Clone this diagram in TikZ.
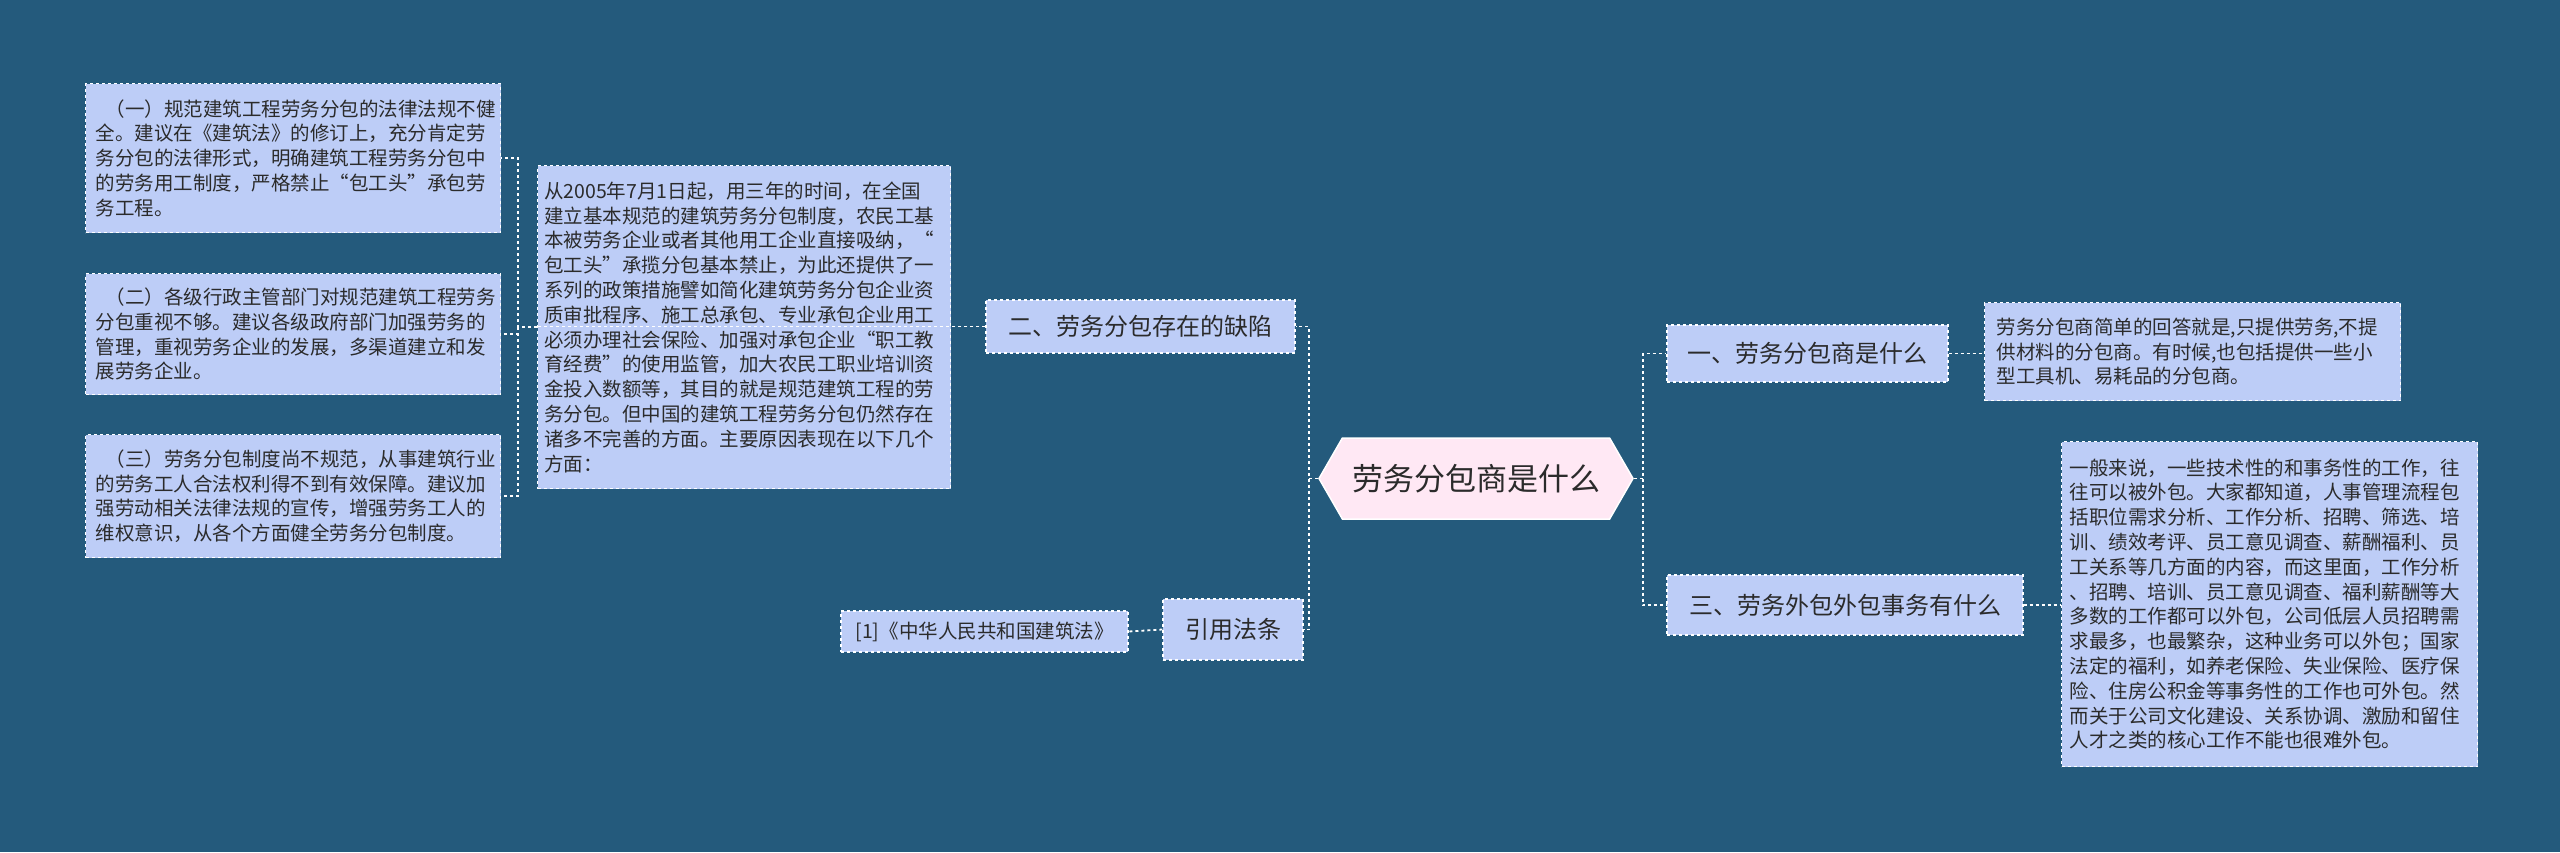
\documentclass[tikz,border=0pt]{standalone}
\usepackage{fontspec}
\setmainfont{Noto Sans CJK SC}
\usetikzlibrary{shapes.symbols}
\definecolor{bg}{HTML}{245A7C}
\definecolor{boxc}{HTML}{BDCDF7}
\definecolor{txt}{HTML}{2B2B2B}
\definecolor{ctr}{HTML}{FFE8F4}
\tikzset{
 card/.style={draw=white, dashed, line width=1.2pt, fill=boxc, text=txt, align=left, anchor=north west, inner sep=0pt, font=\fontsize{19.5}{24.8}\selectfont},
 lab/.style={draw=white, dashed, line width=1.2pt, fill=boxc, text=txt, inner sep=0pt, font=\fontsize{24}{28}\selectfont},
 link/.style={draw=white, dashed, line width=1.8pt},
}
\begin{document}
\begin{tikzpicture}[x=1pt,y=-1pt]
\fill[bg] (0,0) rectangle (2560,852);
\useasboundingbox (0,0) rectangle (2560,852);
% left detail boxes
\node[card, minimum width=415pt, minimum height=149pt, text width=395pt] (l1) at (85,83) {\hspace*{10pt}（一）规范建筑工程劳务分包的法律法规不健\\全。建议在《建筑法》的修订上，充分肯定劳\\务分包的法律形式，明确建筑工程劳务分包中\\的劳务用工制度，严格禁止“包工头”承包劳\\务工程。};
\node[card, minimum width=415pt, minimum height=121pt, text width=395pt] (l2) at (85,273) {\hspace*{10pt}（二）各级行政主管部门对规范建筑工程劳务\\分包重视不够。建议各级政府部门加强劳务的\\管理，重视劳务企业的发展，多渠道建立和发\\展劳务企业。};
\node[card, minimum width=415pt, minimum height=123pt, text width=395pt] (l3) at (85,434) {\hspace*{10pt}（三）劳务分包制度尚不规范，从事建筑行业\\的劳务工人合法权利得不到有效保障。建议加\\强劳动相关法律法规的宣传，增强劳务工人的\\维权意识，从各个方面健全劳务分包制度。};
\node[card, minimum width=413pt, minimum height=323pt, text width=400pt] (mid) at (537,165) {从2005年7月1日起，用三年的时间，在全国\\建立基本规范的建筑劳务分包制度，农民工基\\本被劳务企业或者其他用工企业直接吸纳，“\\包工头”承揽分包基本禁止，为此还提供了一\\系列的政策措施譬如简化建筑劳务分包企业资\\质审批程序、施工总承包、专业承包企业用工\\必须办理社会保险、加强对承包企业“职工教\\育经费”的使用监管，加大农民工职业培训资\\金投入数额等，其目的就是规范建筑工程的劳\\务分包。但中国的建筑工程劳务分包仍然存在\\诸多不完善的方面。主要原因表现在以下几个\\方面：};
% branch labels
\node[lab, minimum width=309pt, minimum height=53pt] (b2) at (1140.5,326.5) {二、劳务分包存在的缺陷};
\node[lab, minimum width=140pt, minimum height=61pt] (b4) at (1233,629.5) {引用法条};
\node[card, anchor=center, minimum width=287pt, minimum height=41pt, align=center] (ref) at (984.5,631.5) {[1]《中华人民共和国建筑法》};
\node[lab, minimum width=281pt, minimum height=57pt] (b1) at (1807.5,353.5) {一、劳务分包商是什么};
\node[lab, minimum width=356pt, minimum height=60pt] (b3) at (1845,605) {三、劳务外包外包事务有什么};
\node[card, minimum width=416pt, minimum height=98pt, text width=392pt] (r1) at (1984,302) {劳务分包商简单的回答就是,只提供劳务,不提\\供材料的分包商。有时候,也包括提供一些小\\型工具机、易耗品的分包商。};
\node[card, minimum width=416pt, minimum height=325pt, text width=400pt] (r3) at (2061,441) {一般来说，一些技术性的和事务性的工作，往\\往可以被外包。大家都知道，人事管理流程包\\括职位需求分析、工作分析、招聘、筛选、培\\训、绩效考评、员工意见调查、薪酬福利、员\\工关系等几方面的内容，而这里面，工作分析\\、招聘、培训、员工意见调查、福利薪酬等大\\多数的工作都可以外包，公司低层人员招聘需\\求最多，也最繁杂，这种业务可以外包；国家\\法定的福利，如养老保险、失业保险、医疗保\\险、住房公积金等事务性的工作也可外包。然\\而关于公司文化建设、关系协调、激励和留住\\人才之类的核心工作不能也很难外包。};
% center
\node[signal, signal to=east and west, signal pointer angle=120, draw=white, line width=1.5pt, fill=ctr, text=txt, minimum width=314pt, minimum height=81pt, inner sep=0pt, font=\fontsize{31}{36}\selectfont] (c) at (1476,478.5) {劳务分包商是什么};
% path helpers
\path (c.west) ++(-9,0) coordinate (cl) (c.east) ++(9,0) coordinate (cr);
\coordinate (ml) at (518,327);
% connectors
\draw[link] (c.west) -- (cl) |- (b2.east);
\draw[link] (cl) |- (b4.east);
\draw[link] (c.east) -- (cr) |- (b1.west);
\draw[link] (cr) |- (b3.west);
\draw[link] (b2.west) -- (mid.west |- b2.west);
\draw[link] (mid.west |- ml) -- (ml) |- (l1.east);
\draw[link] (ml) |- (l2.east);
\draw[link] (ml) |- (l3.east);
\draw[link] (b4.west) -- (ref.east);
\draw[link] (b1.east) -- (b1.east -| r1.west);
\draw[link] (b3.east) -- (b3.east -| r3.west);
\end{tikzpicture}
\end{document}
